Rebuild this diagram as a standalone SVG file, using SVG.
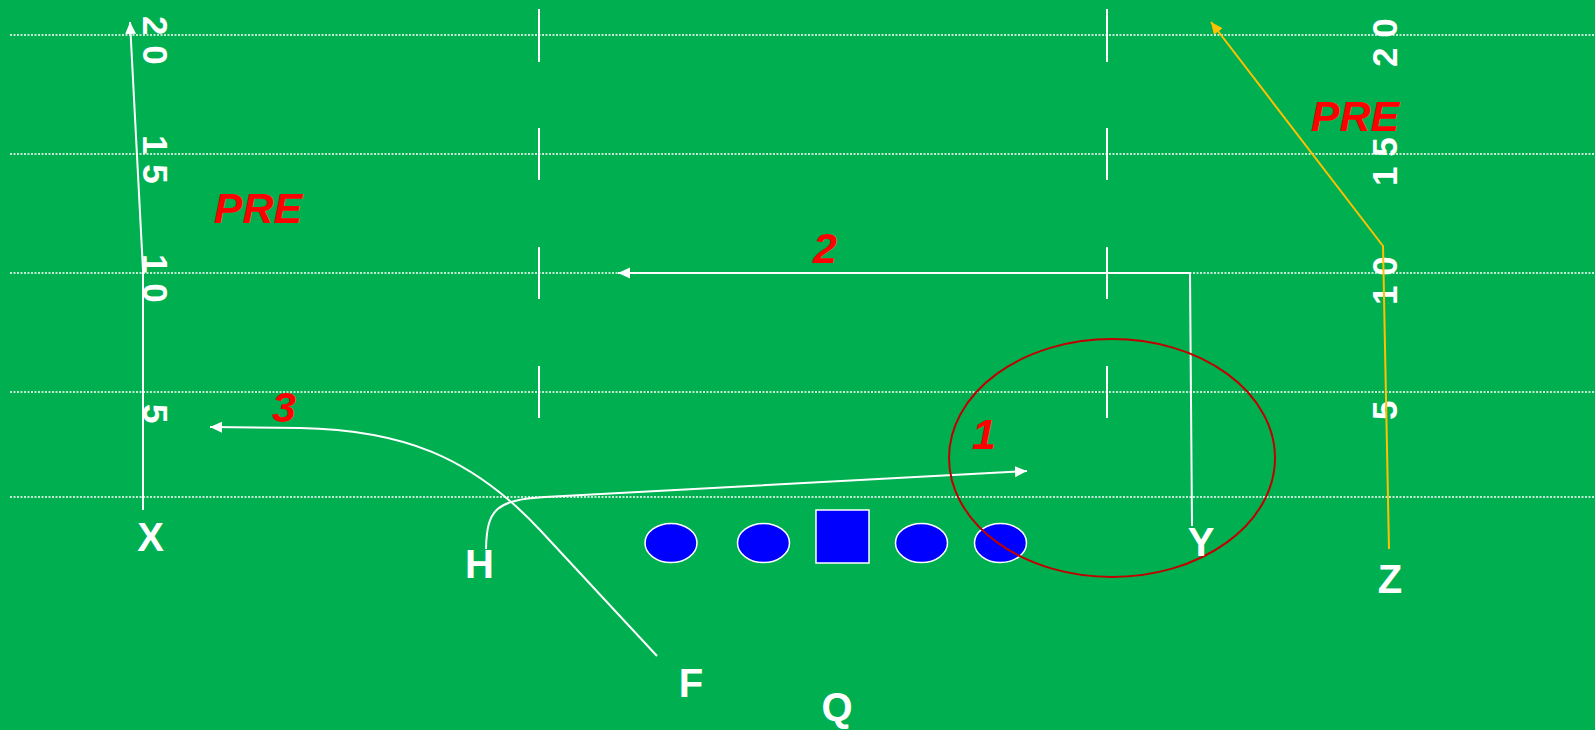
<svg xmlns="http://www.w3.org/2000/svg" width="1595" height="730" viewBox="0 0 1595 730">
<style>
.yl{stroke:#fff;stroke-width:1.5;stroke-dasharray:2 1.5;fill:none}
.hash{stroke:#fff;stroke-width:2;fill:none}
.num{fill:#fff;font-family:"Liberation Sans",Arial,sans-serif;font-weight:bold;font-size:35px}
.route{stroke:#fff;stroke-width:2;fill:none}
.zroute{stroke:#FFC000;stroke-width:2;fill:none}
.player{fill:#0000FF;stroke:#fff;stroke-width:1.5}
.lbl{fill:#fff;font-family:"Liberation Sans",Arial,sans-serif;font-weight:bold;font-size:40px;text-anchor:middle}
.red{fill:#FF0000;font-family:"Liberation Sans",Arial,sans-serif;font-weight:bold;font-style:italic;font-size:43px;text-anchor:middle}
</style>
<defs>
<marker id="aw" markerUnits="userSpaceOnUse" markerWidth="13" markerHeight="12" refX="12" refY="5.5" orient="auto"><path d="M0,0 L12,5.5 L0,11 z" fill="#fff"/></marker>
<marker id="ay" markerUnits="userSpaceOnUse" markerWidth="13" markerHeight="12" refX="12" refY="5.5" orient="auto"><path d="M0,0 L12,5.5 L0,11 z" fill="#FFC000"/></marker>
</defs>
<rect x="0" y="0" width="1595" height="730" fill="#00B050"/>
<g id="field">
<line class="yl" x1="10" y1="35" x2="1595" y2="35"/>
<line class="yl" x1="10" y1="154" x2="1595" y2="154"/>
<line class="yl" x1="10" y1="273" x2="1595" y2="273"/>
<line class="yl" x1="10" y1="392" x2="1595" y2="392"/>
<line class="yl" x1="10" y1="497" x2="1595" y2="497"/>
<line class="hash" x1="539" y1="9" x2="539" y2="62"/>
<line class="hash" x1="539" y1="128" x2="539" y2="180"/>
<line class="hash" x1="539" y1="247" x2="539" y2="299"/>
<line class="hash" x1="539" y1="366" x2="539" y2="418"/>
<line class="hash" x1="1107" y1="9" x2="1107" y2="62"/>
<line class="hash" x1="1107" y1="128" x2="1107" y2="180"/>
<line class="hash" x1="1107" y1="247" x2="1107" y2="299"/>
<line class="hash" x1="1107" y1="366" x2="1107" y2="418"/>
<text class="num" transform="translate(143,16) rotate(90)">2 0</text>
<text class="num" transform="translate(143,135) rotate(90)">1 5</text>
<text class="num" transform="translate(143,254) rotate(90)">1 0</text>
<text class="num" transform="translate(143,404) rotate(90)">5</text>
<text class="num" transform="translate(1397,67) rotate(-90)">2 0</text>
<text class="num" transform="translate(1397,186) rotate(-90)">1 5</text>
<text class="num" transform="translate(1397,305) rotate(-90)">1 0</text>
<text class="num" transform="translate(1397,420) rotate(-90)">5</text>
</g>
<g id="connectors">
<path class="route" d="M143,510 L143,270 L130,22" marker-end="url(#aw)"/>
<path class="route" d="M486,549 C487,510 495,500 545,497 L1027,471" marker-end="url(#aw)"/>
<path class="route" d="M657,656 L540,530 C470,455 400,430 300,428 L210,427" marker-end="url(#aw)"/>
<path class="route" d="M1192,526 L1190,273 L618,273" marker-end="url(#aw)"/>
<path class="zroute" d="M1389,549 L1383,246 L1211,22" marker-end="url(#ay)"/>
</g>
<g id="player-1"><ellipse class="player" cx="671" cy="543" rx="26" ry="19.5"/></g>
<g id="player-2"><ellipse class="player" cx="763.5" cy="543" rx="26" ry="19.5"/></g>
<g id="center"><rect class="player" x="816" y="510" width="53" height="53"/></g>
<g id="player-3"><ellipse class="player" cx="921.5" cy="543" rx="26" ry="19.5"/></g>
<g id="player-4"><ellipse class="player" cx="1000.5" cy="543" rx="26" ry="19.5"/></g>
<g id="zone"><ellipse cx="1112" cy="458" rx="163" ry="119" fill="none" stroke="#C00000" stroke-width="2"/></g>
<g id="label-X"><text class="lbl" x="150.5" y="551">X</text></g>
<g id="label-H"><text class="lbl" x="479.5" y="578">H</text></g>
<g id="label-F"><text class="lbl" x="691" y="697">F</text></g>
<g id="label-Q"><text class="lbl" x="837" y="721">Q</text></g>
<g id="label-Y"><text class="lbl" x="1201" y="556">Y</text></g>
<g id="label-Z"><text class="lbl" x="1390" y="593">Z</text></g>
<g id="notes">
<text class="red" x="258" y="223">PRE</text>
<text class="red" x="1355" y="131">PRE</text>
<text class="red" x="825" y="263">2</text>
<text class="red" x="284" y="422">3</text>
<text class="red" x="984" y="449">1</text>
</g>
</svg>
